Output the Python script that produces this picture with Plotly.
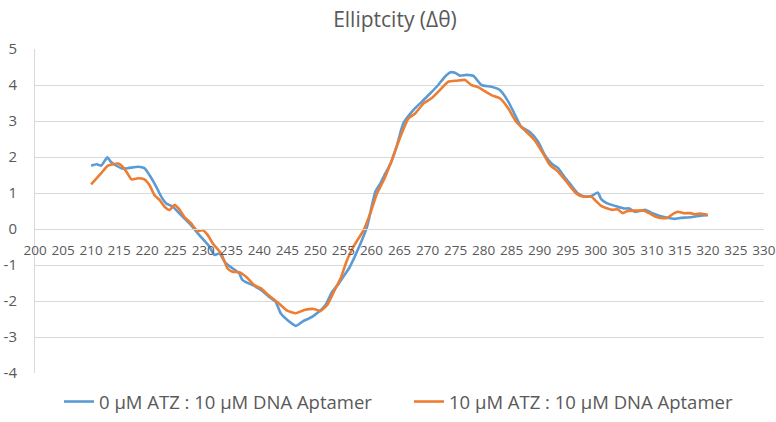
import plotly.graph_objects as go

# 0 µM ATZ : 10 µM DNA Aptamer
wl_blue = [210, 211, 211.8, 212.9, 213.5, 214.6, 215.5, 216.6, 218.4, 219.5, 220.4, 221.6, 222.5, 223.4,
           224.6, 226, 227.8, 229.3, 231.1, 232, 232.9, 234, 235.2, 236.4, 237, 238.8, 240.3, 241.7,
           242.9, 243.8, 245, 246.5, 247.7, 249.4, 250.6, 251.8, 253, 254.2, 255.4, 256, 257.5, 259.2,
           260.7, 261.6, 262.5, 263.5, 264.5, 265.7, 267.5, 269, 270.5, 271.9, 273.1, 274, 274.9, 275.8,
           277, 278.2, 279.6, 281.4, 282.9, 284.4, 285.6, 286.7, 288.2, 289.7, 290.9, 292.1, 293.3,
           294.4, 295.6, 296.8, 298, 299.2, 300.4, 300.9, 301.5, 302.4, 303.9, 305.1, 306, 306.9, 307.8,
           308.9, 310.1, 311.3, 312.8, 314, 315.2, 316.3, 317.5, 318.7, 320]
cd_blue = [1.76, 1.80, 1.76, 1.99, 1.87, 1.75, 1.68, 1.69, 1.73, 1.69, 1.50, 1.18, 0.90, 0.71,
           0.62, 0.39, 0.11, -0.17, -0.49, -0.72, -0.68, -0.95, -1.09, -1.23, -1.42, -1.56, -1.69, -1.88,
           -2.02, -2.34, -2.53, -2.69, -2.57, -2.44, -2.30, -2.11, -1.74, -1.51, -1.23, -1.09, -0.60, 0.06,
           1.04, 1.27, 1.55, 1.85, 2.30, 2.94, 3.31, 3.54, 3.77, 4.00, 4.23, 4.35, 4.34, 4.26,
           4.28, 4.25, 4.00, 3.95, 3.86, 3.54, 3.17, 2.84, 2.70, 2.43, 2.06, 1.82, 1.69,
           1.45, 1.22, 0.99, 0.90, 0.92, 1.01, 0.85, 0.76, 0.69, 0.62, 0.57, 0.57, 0.48, 0.50,
           0.53, 0.44, 0.37, 0.31, 0.28, 0.31, 0.32, 0.34, 0.37, 0.38]

# 10 µM ATZ : 10 µM DNA Aptamer
wl_orange = [210, 211.8, 213, 214.8, 215.5, 216.3, 217.2, 218.4, 219.5, 220.4, 221.3, 222.2, 223.1, 224,
             224.9, 225.8, 226.6, 227.8, 229, 229.9, 230.8, 231.7, 233.2, 234.3, 235.2, 236.4, 237.6,
             239.1, 240.3, 241.7, 243.5, 245, 246.5, 248, 249.7, 250.9, 252.1, 253.3, 254.5, 255.6,
             256.8, 258.6, 259.8, 261, 262.2, 263.4, 264.5, 265.4, 266.6, 267.8, 269.3, 270.7, 272.2,
             273.7, 275.2, 276.7, 277.8, 279, 279.9, 281.4, 282.9, 284.4, 285.8, 287.3, 289.1, 290.6,
             291.8, 293.3, 295, 296.5, 297.7, 299.2, 299.9, 300.9, 302.1, 303, 303.9, 304.8, 305.7,
             306.9, 308.6, 309.5, 310.7, 311.9, 312.8, 313.7, 314.6, 315.7, 316.9, 317.8, 318.7, 320]
cd_orange = [1.24, 1.55, 1.76, 1.82, 1.75, 1.59, 1.38, 1.41, 1.38, 1.22, 0.94, 0.81, 0.62, 0.53,
             0.67, 0.53, 0.34, 0.16, -0.06, -0.03, -0.17, -0.40, -0.68, -1.09, -1.19, -1.20, -1.32,
             -1.56, -1.65, -1.85, -2.07, -2.27, -2.34, -2.25, -2.22, -2.28, -2.11, -1.74, -1.37, -0.88,
             -0.49, -0.03, 0.44, 0.99, 1.36, 1.82, 2.29, 2.66, 3.07, 3.21, 3.49, 3.63, 3.86,
             4.09, 4.12, 4.14, 4.00, 3.94, 3.86, 3.72, 3.63, 3.35, 2.98, 2.75, 2.47, 2.10,
             1.78, 1.59, 1.27, 0.99, 0.90, 0.90, 0.80, 0.65, 0.57, 0.53, 0.55, 0.44, 0.50,
             0.51, 0.51, 0.44, 0.34, 0.30, 0.31, 0.41, 0.48, 0.44, 0.44, 0.41, 0.43, 0.39]

x_ticks = list(range(200, 331, 5))
y_ticks = list(range(-4, 6, 1))
y_ticklabels = [str(v) for v in y_ticks]  # plain hyphen minus as in the reference
title_text = "Elliptcity (Δθ)"
name_blue = "0 µM ATZ : 10 µM DNA Aptamer"
name_orange = "10 µM ATZ : 10 µM DNA Aptamer"

FONT = "Open Sans"
GREY = "#595959"

W, H = 776, 422
ML, MR, MT, MB = 35, 12, 49, 49
plot_w = W - ML - MR
plot_h = H - MT - MB

fig = go.Figure()
fig.add_trace(go.Scatter(x=wl_blue, y=cd_blue, mode="lines", name=name_blue,
                         line=dict(color="#5B9BD5", width=2.6, shape="spline", smoothing=0.5)))
fig.add_trace(go.Scatter(x=wl_orange, y=cd_orange, mode="lines", name=name_orange,
                         line=dict(color="#ED7D31", width=2.6, shape="spline", smoothing=0.5)))

ymin, ymax = -4, 5
fig.update_layout(
    width=W, height=H,
    margin=dict(l=ML, r=MR, t=MT, b=MB, autoexpand=False),
    paper_bgcolor="white", plot_bgcolor="white",
    font=dict(family=FONT, color=GREY, size=14),
    title=dict(text=title_text, x=0.509, xanchor="center", y=1 - 20 / H, yanchor="middle",
               font=dict(family=FONT, size=21, color=GREY)),
    showlegend=True,
    legend=dict(orientation="h", xanchor="center", x=(409 - ML) / plot_w,
                yanchor="middle", y=-(402 - (H - MB)) / plot_h,
                entrywidth=305, entrywidthmode="pixels",
                font=dict(family=FONT, size=18.5, color=GREY), itemwidth=30,
                traceorder="normal"),
    xaxis=dict(range=[199.99, 330.01], tickvals=x_ticks, ticktext=[str(v) for v in x_ticks],
               showgrid=False, zeroline=False, showline=True, linecolor="#d9d9d9", linewidth=1,
               anchor="free", position=(0 - ymin) / (ymax - ymin), ticks="", automargin=False,
               ticklabelstandoff=9, ticklabeloverflow="allow",
               tickfont=dict(family=FONT, size=13.5, color=GREY)),
    yaxis=dict(range=[ymin, ymax], tickvals=y_ticks, ticktext=y_ticklabels, showgrid=True,
               gridcolor="#d9d9d9", gridwidth=1, zeroline=False, showline=True,
               linecolor="#d9d9d9", linewidth=1, ticks="", automargin=False,
               ticklabelstandoff=14, ticklabeloverflow="allow",
               tickfont=dict(family=FONT, size=15, color=GREY)),
)

# remove the browser's default 8px body margin so the figure fills the window exactly
fig.write_html("out.html", config={"displayModeBar": False},
               post_script="document.body.style.margin='0';document.body.style.overflow='hidden';")
